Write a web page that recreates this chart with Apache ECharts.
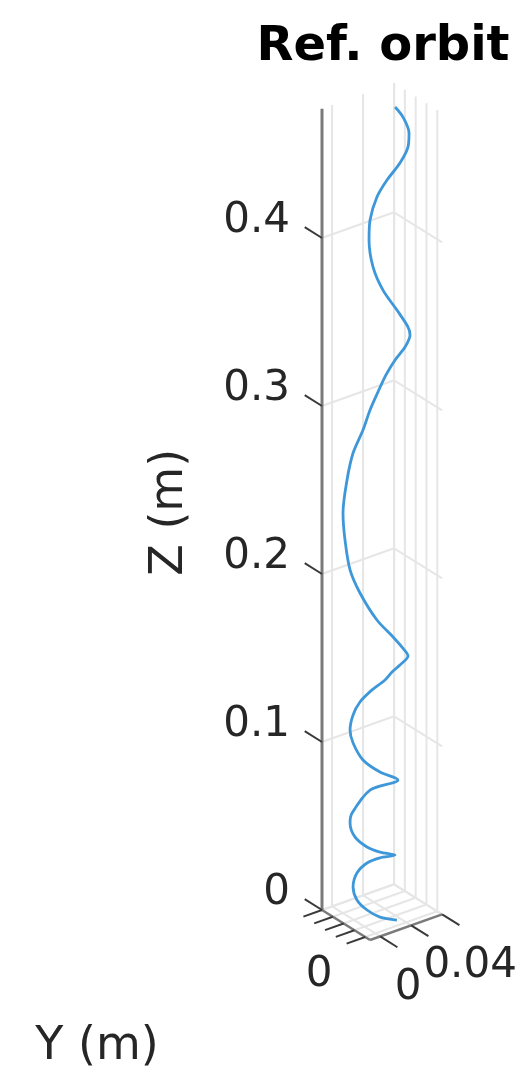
<!DOCTYPE html>
<html><head><meta charset="utf-8">
<script src="https://cdn.jsdelivr.net/npm/echarts@6/dist/echarts.min.js"></script>
<style>html,body{margin:0;padding:0;background:#fff}#chart{width:523px;height:1075px}</style>
</head><body><div id="chart"></div>
<script>
// ---------- data ----------
const titleText = 'Ref. orbit';
const zAxisName = 'Z (m)';
const yAxisName = 'Y (m)';
const zTicks = [0, 0.1, 0.2, 0.3, 0.4];
const zTickLabels = ['0', '0.1', '0.2', '0.3', '0.4'];
const xTicks = [0, 0.02, 0.04];
const xTickLabels = ['0', '', '0.04'];
const yTicks = [0, 0.01, 0.02, 0.03, 0.04];
const yTickLabels = ['0', '', '', '', ''];
const xLimits = [-0.0065, 0.04];
const yLimits = [-0.0045, 0.04];
const zLimits = [0, 0.477];
// orbit as seen in the projected view: position across the view (m) and apparent height (m)
const orbitAcross = [0.0435,0.0482,0.0518,0.0512,0.0464,0.0387,0.0327,0.0286,0.0280,0.0304,0.0363,0.0446,0.0512,0.0524,0.0494,0.0435,0.0381,0.0333,0.0286,0.0244,0.0185,0.0149,0.0125,0.0137,0.0167,0.0226,0.0327,0.0423,0.0476,0.0512,0.0464,0.0417,0.0375,0.0298,0.0226,0.0185,0.0167,0.0185,0.0244,0.0345,0.0452,0.0286,0.0179,0.0167,0.0196,0.0268,0.0345,0.0435,0.0345,0.0268,0.0208,0.0185,0.0208,0.0268,0.0345,0.0446];
const orbitHeight = [0.4780,0.4720,0.4625,0.4542,0.4446,0.4345,0.4244,0.4107,0.3988,0.3827,0.3690,0.3571,0.3470,0.3423,0.3351,0.3274,0.3185,0.3083,0.2976,0.2857,0.2720,0.2560,0.2363,0.2202,0.2024,0.1887,0.1726,0.1625,0.1565,0.1512,0.1458,0.1417,0.1369,0.1310,0.1238,0.1161,0.1071,0.0994,0.0893,0.0821,0.0774,0.0714,0.0577,0.0518,0.0435,0.0375,0.0345,0.0327,0.0310,0.0280,0.0220,0.0137,0.0060,0.0000,-0.0042,-0.0060];

// ---------- view (projection of the 3D box onto the page) ----------
const S = 1680;                      // px per metre of height
const XV = [1550 / S, 553 / S];      // screen shift per metre of X: [across, up]
const YV = [1080 / S, -675 / S];     // screen shift per metre of decreasing Y
function proj(X, Y, Z) {
  const dx = X - xLimits[0], dy = yLimits[1] - Y;
  return [dx * XV[0] + dy * YV[0], Z + dx * XV[1] + dy * YV[1]];
}

const FONT = '"DejaVu Sans", sans-serif';
const TXT = '#262626';
const GRID = '#e6e6e6';
const AXIS = '#7a7a7a';
const TICK = '#3a3a3a';

const chart = echarts.init(document.getElementById('chart'), null, {renderer: 'canvas'});

function renderBox(params, api) {
  if (params.dataIndex !== 0) return null;
  const P = (X, Y, Z) => api.coord(proj(X, Y, Z));
  const ch = [];
  const seg = (a, b, stroke, w) => ch.push({type: 'line', shape: {x1: a[0], y1: a[1], x2: b[0], y2: b[1]}, style: {stroke, lineWidth: w}, silent: true});
  const txt = (p, text, size, align, extra) => ch.push(Object.assign({type: 'text', x: p[0], y: p[1], style: {text, fill: TXT, font: size + 'px ' + FONT, align, verticalAlign: 'middle'}, silent: true}, extra || {}));
  const [x0, x1] = xLimits, [y0, y1] = yLimits, [z0, z1] = zLimits;
  // back wall vertical grid lines
  xTicks.forEach(x => seg(P(x, y1, z0), P(x, y1, z1), GRID, 2));
  yTicks.forEach(y => seg(P(x1, y, z0), P(x1, y, z1), GRID, 2));
  seg(P(x1, y1, z0), P(x1, y1, z1), GRID, 2);
  // floor grid lines
  xTicks.forEach(x => seg(P(x, y0, z0), P(x, y1, z0), GRID, 2));
  yTicks.forEach(y => seg(P(x0, y, z0), P(x1, y, z0), GRID, 2));
  // horizontal Z grid lines on the back walls
  zTicks.forEach(z => { seg(P(x0, y1, z), P(x1, y1, z), GRID, 2); seg(P(x1, y1, z), P(x1, y0, z), GRID, 2); });
  // axis lines
  seg(P(x0, y1, z0), P(x0, y1, z1), AXIS, 3);
  seg(P(x0, y1, z0), P(x0, y0, z0), AXIS, 2.5);
  seg(P(x0, y0, z0), P(x1, y0, z0), AXIS, 2.5);
  // ticks + tick labels
  zTicks.forEach((z, i) => {
    const a = P(x0, y1, z);
    seg(a, P(x0, y1 + 0.016, z), TICK, 2);
    txt([a[0] - 32, a[1] - 17], zTickLabels[i], 42, 'right');
  });
  yTicks.forEach((y, i) => {
    const a = P(x0, y, z0);
    seg(a, P(x0 - 0.012, y, z0), TICK, 2);
    if (yTickLabels[i]) txt([a[0] - 46, a[1] + 38], yTickLabels[i], 42, 'center');
  });
  xTicks.forEach((x, i) => {
    const a = P(x, y0, z0);
    seg(a, P(x, y0 - 0.016, z0), TICK, 2);
    if (xTickLabels[i]) txt([a[0] + 28, a[1] + 52], xTickLabels[i], 42, 'center');
  });
  // axis names
  const zm = P(x0, y1, (z0 + z1) / 2);
  txt([zm[0] - 152, zm[1] + 3], zAxisName, 46, 'center', {rotation: Math.PI / 2});
  const ym = P(x0, (y0 + y1) / 2, z0);
  txt([ym[0] - 249, ym[1] + 122], yAxisName, 46, 'center');
  // title
  const tp = P(x0, y1, z1);
  txt([tp[0] + 61, tp[1] - 61], titleText, 48, 'center', {style: {text: titleText, fill: '#000', font: 'bold 48px ' + FONT, align: 'center', verticalAlign: 'middle'}});
  return {type: 'group', children: ch};
}

chart.setOption({
  animation: false,
  backgroundColor: '#ffffff',
  grid: {left: 0, right: 0, top: 0, bottom: 0},
  xAxis: {type: 'value', min: -322 / S, max: 201 / S, show: false},
  yAxis: {type: 'value', min: -165 / S, max: 910 / S, show: false},
  series: [
    {type: 'custom', renderItem: renderBox, data: [[0, 0]], clip: false, silent: true, z: 1},
    {type: 'line', data: orbitAcross.map((h, i) => [h, orbitHeight[i]]), showSymbol: false, smooth: 0.3,
     lineStyle: {color: '#3d97d9', width: 2.8}, clip: false, z: 3}
  ]
});
</script></body></html>
